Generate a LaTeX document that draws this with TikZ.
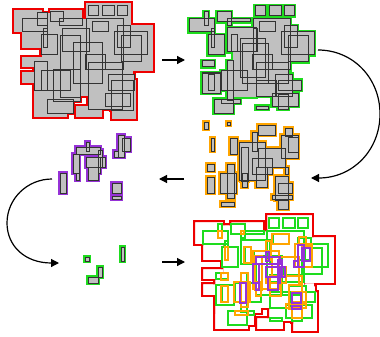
\documentclass[tikz,border=0pt]{standalone}
\usetikzlibrary{arrows.meta}
\definecolor{rgray}{RGB}{192,192,192}
\definecolor{cred}{RGB}{238,0,0}
\definecolor{cgreen}{RGB}{30,220,30}
\definecolor{corange}{RGB}{255,165,0}
\definecolor{cpurple}{RGB}{150,50,215}
\tikzset{blk/.style={draw=black!80,line width=1pt},
  arr/.style={line width=1.2pt,-{Triangle[length=8pt,width=8pt]}}}
% rectangle lists x1/y1/x2/y2 (pixels, y down)
\def\PoneB{88/6/98/16, 102/6/114/16, 117/6/127/16, 92/22/108/32, 22/19/47/32, 37/13/47/26, 50/12/63/22, 59/19/82/26, 43/29/47/48, 41/35/57/55, 62/29/89/52, 73/43/102/83, 60/36/80/97, 86/19/123/70, 114/32/147/55, 121/36/141/62, 117/26/130/48, 85/55/105/70, 88/63/122/109, 108/74/134/90, 111/80/133/110, 105/93/130/106, 34/62/47/90, 41/71/70/90, 53/70/80/101, 47/99/73/113}
\def\PoneU{14/10/42/32, 42/13/50/20, 50/10/82/19, 86/3/131/26, 86/25/153/71, 22/32/42/48, 22/57/42/67, 22/72/34/83, 34/83/67/117, 67/100/73/113, 76/106/102/117, 112/80/136/119, 112/74/133/80, 123/71/133/80, 42/19/123/96, 34/62/60/100}
\def\PtwoB{255/6/265/16, 269/6/281/16, 284/6/294/16, 259/22/275/32, 189/19/214/32, 204/12/208/26, 217/12/231/22, 227/19/250/22, 227/19/231/26, 211/29/214/48, 208/35/224/55, 227/28/256/52, 231/35/237/52, 242/44/268/83, 240/39/265/77, 253/29/257/52, 253/19/290/70, 281/32/314/55, 288/36/308/62, 284/26/297/48, 252/55/272/70, 256/63/288/83, 256/80/276/96, 275/74/292/96, 278/80/301/90, 272/93/298/106, 278/94/288/109, 256/106/268/109, 221/71/247/90, 227/61/233/100, 202/61/214/67, 202/73/220/93, 208/74/214/90, 214/99/233/113, 221/99/240/103}
\def\PtwoU{233/52/256/97}
\def\PthreeB{204/122/208/129, 227/122/230/125, 258/125/275/135, 211/138/214/151, 230/138/237/154, 207/164/214/171, 207/177/214/193, 220/173/236/193, 227/164/234/198, 221/202/234/206, 252/132/257/151, 239/142/265/180, 241/147/248/181, 252/158/272/174, 258/148/285/167, 256/167/267/187, 242/173/247/187, 285/128/292/136, 281/135/298/158, 288/137/298/152, 285/167/288/174, 275/176/288/200, 278/183/292/193, 272/195/292/199, 278/199/288/209}
\def\PfourB{60/173/66/193, 86/142/89/151, 76/147/100/154, 73/154/79/173, 76/173/79/180, 98/150/102/167, 86/157/105/167, 88/167/98/180, 98/157/100/173, 118/135/124/157, 122/138/130/151, 114/151/118/157, 112/183/121/193, 112/196/121/199}
\def\PfiveB{85/257/89/261, 121/247/124/261, 98/267/102/277, 88/277/98/283}
\newcommand\strokeall[2]{\foreach \a/\b/\c/\d in #2 {\draw[#1] (\a,\b) rectangle (\c,\d);}}
\newcommand\fillall[1]{\foreach \a/\b/\c/\d in #1 {\fill[rgray] (\a,\b) rectangle (\c,\d);}}
\newcommand\outclip[1]{\foreach \a/\b/\c/\d in #1 {\clip (-400,-400) -- (800,-400) -- (800,800) -- (-400,800) -- cycle (\a,\b) -- (\a,\d) -- (\c,\d) -- (\c,\b) -- cycle;}}
\begin{document}
\begin{tikzpicture}[x=1pt,y=-1pt]
\useasboundingbox (0,0) rectangle (380,337);
\fill[white] (0,0) rectangle (380,337);
% panel 1
\strokeall{cred,line width=4.8pt}{\PoneB}
\strokeall{cred,line width=4.8pt}{\PoneU}
\fillall{\PoneB}\fillall{\PoneU}
\strokeall{blk}{\PoneB}
% panel 2
\strokeall{cgreen,line width=4.8pt}{\PtwoB}
\strokeall{cgreen,line width=4.8pt}{\PtwoU}
\fillall{\PtwoB}\fillall{\PtwoU}
\strokeall{blk}{\PtwoB}
% panel 3
\strokeall{corange,line width=4.8pt}{\PthreeB}
\fillall{\PthreeB}
\strokeall{blk}{\PthreeB}
% panel 4
\strokeall{cpurple,line width=4.8pt}{\PfourB}
\fillall{\PfourB}
\strokeall{blk}{\PfourB}
% panel 5
\strokeall{cgreen,line width=4.8pt}{\PfiveB}
\fillall{\PfiveB}
\strokeall{blk}{\PfiveB}
% panel 6 overlay
\begin{scope}[shift={(181,212)}]
  \outclip{\PoneB}\outclip{\PoneU}
  \strokeall{cred,line width=4.8pt}{\PoneB}
  \strokeall{cred,line width=4.8pt}{\PoneU}
\end{scope}
\begin{scope}[shift={(14,212)}]
  \strokeall{cgreen,line width=2.1pt}{\PtwoB}
\end{scope}
\begin{scope}[shift={(181,0)}]
  \strokeall{cgreen,line width=2.1pt}{\PfiveB}
\end{scope}
\begin{scope}[shift={(14,109)}]
  \strokeall{corange,line width=2.1pt}{\PthreeB}
\end{scope}
\begin{scope}[shift={(180,110)}]
  \strokeall{cpurple,line width=2.1pt}{\PfourB}
\end{scope}
% arrows
\coordinate (a1s) at (162,60); \coordinate (a1e) at (185,60);
\coordinate (a2s) at (318,50); \coordinate (a2e) at (311,178);
\coordinate (a3s) at (184,179); \coordinate (a3e) at (159,179);
\coordinate (a4s) at (52,179); \coordinate (a4e) at (59,263);
\coordinate (a5s) at (162,262); \coordinate (a5e) at (185,262);
\draw[arr] (a1s) -- (a1e);
\draw[arr] (a2s) .. controls (353,50) and (380,78) .. (380,114) .. controls (380,150) and (353,178) .. (a2e);
\draw[arr] (a3s) -- (a3e);
\draw[arr] (a4s) .. controls (27,179) and (7,199) .. (7,223) .. controls (7,246) and (25,263) .. (a4e);
\draw[arr] (a5s) -- (a5e);
\end{tikzpicture}
\end{document}
